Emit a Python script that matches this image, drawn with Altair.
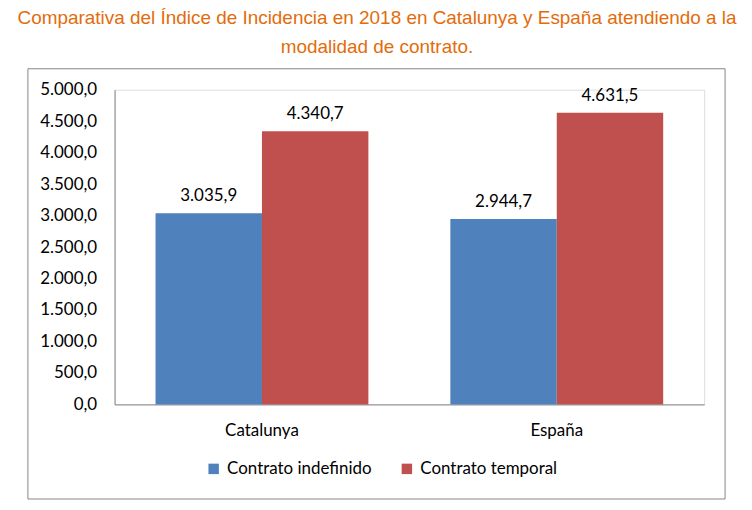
import altair as alt
import pandas as pd

regiones = ["Catalunya", "Catalunya", "España", "España"]
contratos = ["Contrato indefinido", "Contrato temporal", "Contrato indefinido", "Contrato temporal"]
indices = [3035.9, 4340.7, 2944.7, 4631.5]
y_ticks = [0, 500, 1000, 1500, 2000, 2500, 3000, 3500, 4000, 4500, 5000]
titulo = ["Comparativa del Índice de Incidencia en 2018 en Catalunya y España atendiendo a la",
          "modalidad de contrato."]
colores = ["#4F81BD", "#C0504D"]

df = pd.DataFrame({"region": regiones, "contrato": contratos, "indice": indices})

es_fmt = "replace(replace(replace(format({v}, ',.1f'), ',', '_'), '.', ','), '_', '.')"

FONT = "Lato"
FS = 17

base = alt.Chart(df).encode(
    x=alt.X("region:N", sort=["Catalunya", "España"],
            scale=alt.Scale(paddingInner=0.278, paddingOuter=0.139),
            axis=alt.Axis(title=None, labelAngle=0, ticks=False, labelPadding=18,
                          labelFontSize=FS, labelFont=FONT, labelColor="#000000",
                          domainColor="#868686")),
    xOffset=alt.XOffset("contrato:N", sort=contratos[:2],
                        scale=alt.Scale(paddingInner=0, paddingOuter=0)),
    y=alt.Y("indice:Q", scale=alt.Scale(domain=[0, 5000], nice=False),
            axis=alt.Axis(title=None, values=y_ticks, grid=False, ticks=False,
                          labelPadding=18, labelFontSize=FS, labelFont=FONT,
                          labelColor="#000000", domainColor="#868686",
                          labelOverlap=False, labelFlush=False,
                          labelExpr=es_fmt.format(v="datum.value"))),
)

bars = base.mark_bar().encode(
    color=alt.Color("contrato:N", sort=contratos[:2],
                    scale=alt.Scale(domain=contratos[:2], range=colores),
                    legend=alt.Legend(title=None, orient="none", direction="horizontal",
                                      legendX=91, legendY=372, symbolType="square",
                                      symbolSize=110, symbolStrokeWidth=0,
                                      labelFontSize=FS, labelFont=FONT,
                                      labelColor="#000000", labelOffset=5,
                                      columnPadding=26, padding=0)),
)

labels = base.transform_calculate(
    etiqueta=es_fmt.format(v="datum.indice")
).mark_text(font=FONT, fontSize=FS, color="#000000", baseline="middle", dy=-17).encode(
    text="etiqueta:N",
)

frame = alt.Chart(pd.DataFrame({"k": [0]})).mark_rect(
    fillOpacity=0, stroke="#868686", strokeWidth=1
).encode(
    x=alt.value(-87), x2=alt.value(613), y=alt.value(-21), y2=alt.value(411)
)

chart = alt.layer(frame, bars, labels).properties(
    width=592, height=316,
    title=alt.TitleParams(titulo, color="#E36C0A", font="Liberation Sans", fontSize=19,
                          fontWeight="normal", anchor="middle", lineHeight=29,
                          dx=-32.5, offset=11),
    autosize=alt.AutoSizeParams(type="none"),
    padding={"left": 107, "top": 81, "right": 40, "bottom": 96},
).configure_view(stroke=None).configure(background="white")

chart.save("out.html", embed_options={"renderer": "svg", "actions": False})
